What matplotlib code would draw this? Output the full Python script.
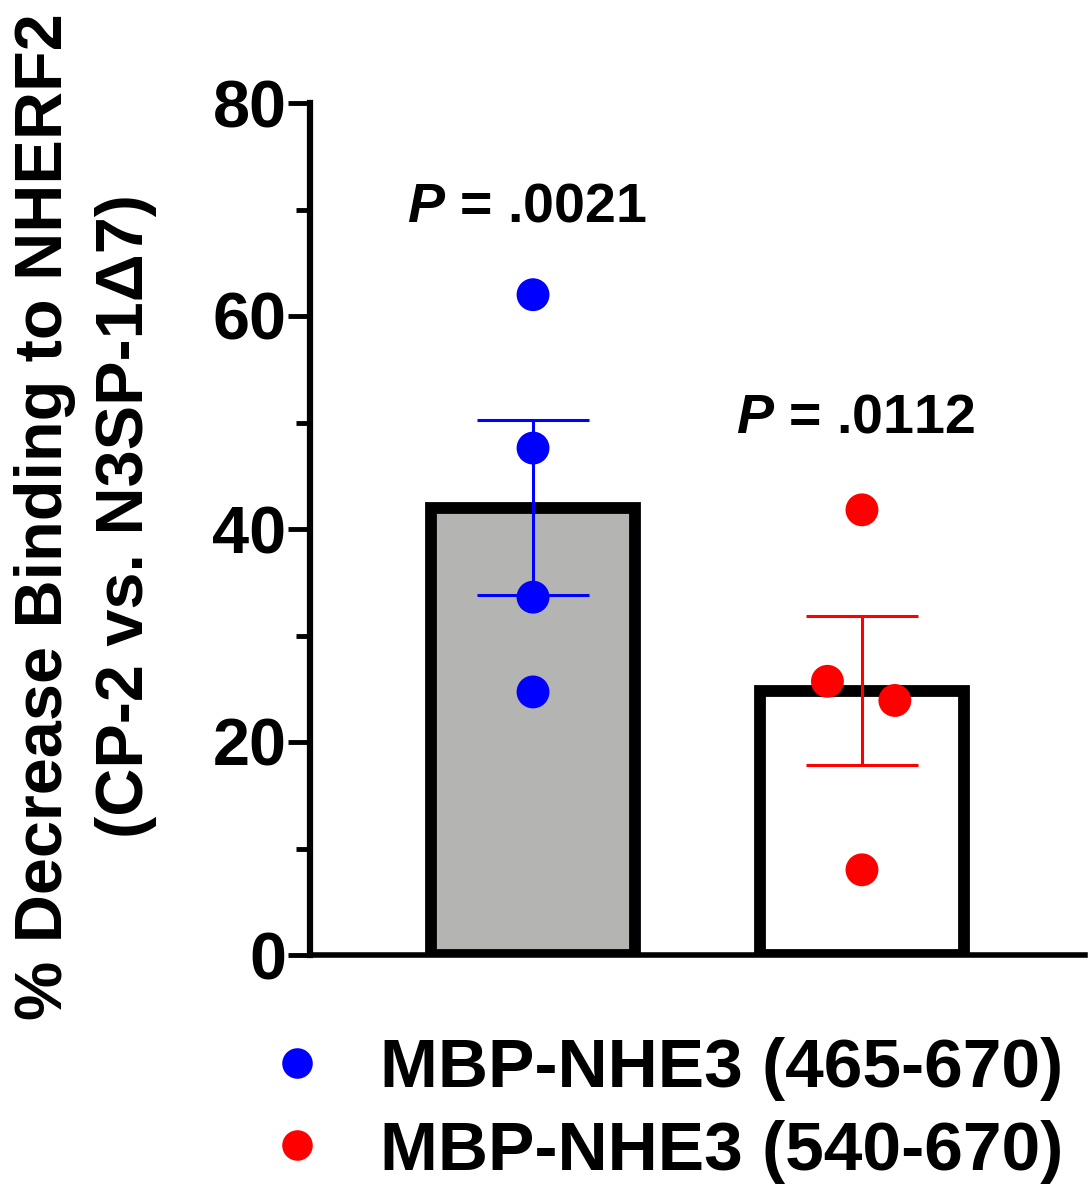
import numpy as np
import matplotlib.pyplot as plt
from matplotlib.lines import Line2D
from matplotlib.ticker import MultipleLocator

# données
groups = ["MBP-NHE3 (465-670)", "MBP-NHE3 (540-670)"]
bar_means = [42.0, 24.8]
bar_sem = [8.2, 7.0]
points_465 = [62.0, 47.6, 33.6, 24.7]
points_540 = [41.8, 25.7, 23.9, 8.0]
p_values = [".0021", ".0112"]
p_heights = [70.2, 50.4]

bar_fill = ["#b4b4b2", "white"]
dot_colors = ["#0000ff", "#ff0000"]

plt.rcParams["font.family"] = "Liberation Sans"
plt.rcParams["font.weight"] = "bold"
plt.rcParams["mathtext.fontset"] = "custom"
plt.rcParams["mathtext.it"] = "Liberation Sans:italic:bold"
plt.rcParams["mathtext.rm"] = "Liberation Sans:bold"

fig = plt.figure(figsize=(10.88, 12), dpi=100)
ax = fig.add_axes([310 / 1088, 1 - 955 / 1200, 775 / 1088, 852 / 1200])

x = np.arange(len(groups))
ax.bar(x, bar_means, width=0.62, color=bar_fill, edgecolor="black",
       linewidth=8.5, zorder=2)

for i, c in enumerate(dot_colors):
    ax.errorbar(x[i], bar_means[i], yerr=bar_sem[i], color=c, lw=2.2,
                capsize=40, capthick=2.2, zorder=3)

# petits décalages horizontaux des points (comme dans l'original)
offs_540 = [0.0, -0.105, 0.10, 0.0]
ax.scatter(np.full(len(points_465), x[0]), points_465, s=560,
           color=dot_colors[0], edgecolor="none", zorder=4)
ax.scatter(x[1] + np.array(offs_540), points_540, s=560,
           color=dot_colors[1], edgecolor="none", zorder=4)

for i, (p, h) in enumerate(zip(p_values, p_heights)):
    ax.text(x[i] - 0.02, h, r"$\mathit{P}$ = " + p, ha="center", va="center",
            fontsize=40, fontweight="bold")

ax.set_xlim(-0.678, 1.678)
ax.set_ylim(0, 80)
ax.yaxis.set_major_locator(MultipleLocator(20))
ax.yaxis.set_minor_locator(MultipleLocator(10))
ax.tick_params(axis="y", which="major", length=16, width=3.5,
               labelsize=48, pad=1)
ax.tick_params(axis="y", which="minor", length=10, width=3.5)
ax.set_xticks([])
ax.spines["top"].set_visible(False)
ax.spines["right"].set_visible(False)
ax.spines["left"].set_linewidth(4.5)
ax.spines["bottom"].set_linewidth(4)

ax.set_ylabel("% Decrease Binding to NHERF2\n(CP-2 vs. N3SP-1\u03947)",
              fontsize=48, fontweight="bold", linespacing=1.4)
ax.yaxis.set_label_coords(-0.197, 0.515)

handles = [Line2D([], [], ls="none", marker="o", markersize=22,
                  color=c, markeredgecolor="none") for c in dot_colors]
fig.legend(handles, groups, loc="upper left",
           bbox_to_anchor=(262 / 1088, 1 - 1037 / 1200),
           frameon=False, fontsize=50, handlelength=1.0,
           handletextpad=0.7, labelspacing=0.27, borderpad=0,
           borderaxespad=0)

fig.savefig("out.png", dpi=100)
